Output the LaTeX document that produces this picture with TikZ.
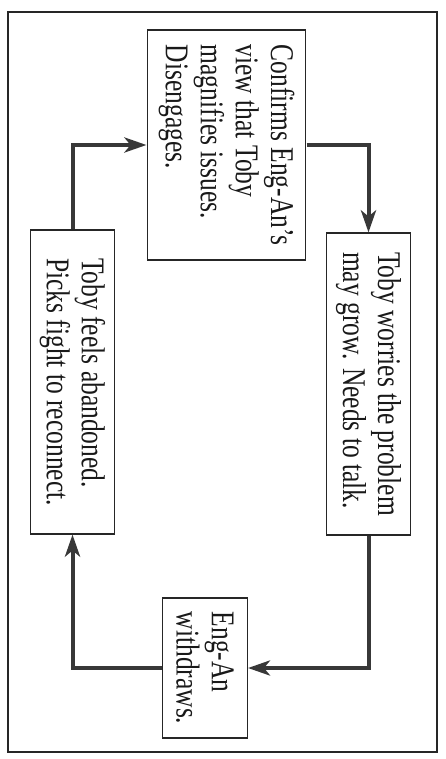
\documentclass[tikz,border=0pt]{standalone}
\usepackage{fontspec}
\setmainfont{Liberation Serif}
\usetikzlibrary{arrows.meta}
\newcommand{\cyclfont}{\fontsize{25.5pt}{27pt}\selectfont}
\newcommand{\cyclstretch}{1.3}
\newcommand{\cyclacross}{65pt}

\begin{document}
\begin{tikzpicture}[x=1pt,y=-1pt,
    cyclbox/.style={draw=black!85,line width=1.1pt,rotate=-90,yscale=\cyclstretch,
      align=left,font=\cyclfont,text=black!90,inner sep=4pt,
      minimum height=\cyclacross},
    cyclflow/.style={line width=4pt,draw=black!78,
      -{Stealth[length=22pt,width=15pt,inset=6pt]}}]
    \useasboundingbox (0,0) rectangle (445,759);
    \draw[line width=1.1pt,black!85] (8,12) rectangle (437,752);

    \node (confirms) at (226.5,145) [cyclbox,minimum width=230pt,
      minimum height=122pt]
      {Confirms Eng-An’s\\view that Toby\\magnifies issues.\\Disengages.};
    \node (worries) at (368.5,384) [cyclbox,minimum width=302pt]
      {Toby worries the problem\\may grow. Needs to talk.};
    \node (withdraws) at (205,668) [cyclbox,minimum width=140pt]
      {Eng-An\\withdraws.};
    \node (abandoned) at (72.5,382) [cyclbox,minimum width=304pt]
      {Toby feels abandoned.\\Picks fight to reconnect.};

    \draw[cyclflow] (confirms.north) -| (worries.west);
    \draw[cyclflow] (worries.east) |- (withdraws.north);
    \draw[cyclflow] (withdraws.south) -| (abandoned.east);
    \draw[cyclflow] (abandoned.west) |- (confirms.south);
  \end{tikzpicture}
\end{document}
